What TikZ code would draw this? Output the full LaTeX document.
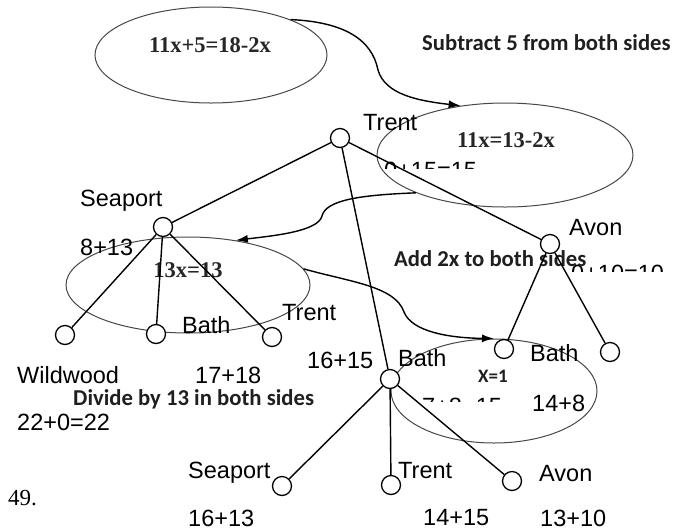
\documentclass[tikz,border=0pt]{standalone}
\usepackage{fontspec}
\setmainfont{Liberation Sans}
\newfontfamily\timesf{Liberation Serif}
\newfontfamily\calib{Carlito}
\usetikzlibrary{shapes.geometric,arrows.meta}
\tikzset{
  lbl/.style={font=\fontsize{23.5}{28}\selectfont, inner sep=0, anchor=base west},
  bld/.style={font=\calib\bfseries\fontsize{22.7}{27}\selectfont, text=black!88, inner sep=0, anchor=base west},
  eqn/.style={font=\timesf\bfseries\fontsize{22.5}{27}\selectfont, text=black!85, inner sep=0, anchor=base},
  vtx/.style={circle, draw, fill=white, line width=1.3pt, minimum size=19pt, inner sep=0},
  oval/.style={ellipse, draw=black!72, line width=1pt, inner sep=0},
  branch/.style={line width=1.4pt},
  flow/.style={line width=1.4pt, -{Latex[length=12pt,width=8pt]}}
}
\begin{document}
\begin{tikzpicture}[x=1pt,y=-1pt]
\useasboundingbox (0,0) rectangle (674,531);
% ellipses
\node[oval, minimum width=232pt, minimum height=96pt] (e1) at (211,55) {};
\node[oval, minimum width=256pt, minimum height=104pt] (e2) at (505,155) {};
\node[oval, minimum width=244pt, minimum height=96pt] (e4) at (188,285) {};
\node[oval, minimum width=206pt, minimum height=104pt] (e3) at (494,391) {};
% clipped labels
\begin{scope}
  \clip (370,150) rectangle (495,168.5);
  \node[lbl] (c1) at (384,178.5) {0+15=15};
\end{scope}
\begin{scope}
  \clip (560,255) rectangle (674,271);
  \node[lbl] (c2) at (571,281.5) {0+10=10};
\end{scope}
\begin{scope}
  \clip (410,390) rectangle (515,401);
  \node[lbl] (c3) at (422,414) {7+8=15};
\end{scope}
% equations
\node[eqn] (q1) at (210,52.5) {11x+5=18-2x};
\node[eqn] (q2) at (506,147.5) {11x=13-2x};
\node[eqn] (q4) at (188,277.5) {13x=13};
\node[bld, anchor=base, font=\calib\bfseries\fontsize{19}{23}\selectfont] (q3) at (493,382) {X=1};
% step texts
\node[bld] (s1) at (422,50) {Subtract 5 from both sides};
\node[bld] (s2) at (394,266) {Add 2x to both sides};
\node[bld] (s3) at (73,405) {Divide by 13 in both sides};
% tree vertices
\node[vtx] (t)  at (340,138) {};
\node[vtx] (sp) at (163,227) {};
\node[vtx] (av) at (550,244) {};
\node[vtx] (bm) at (390,379) {};
\node[vtx] (sw) at (65,335) {};
\node[vtx] (sb) at (156,334) {};
\node[vtx] (st) at (272,337) {};
\node[vtx] (ab) at (504,349) {};
\node[vtx] (ax) at (610,352) {};
\node[vtx] (bs) at (282,486) {};
\node[vtx] (bt) at (391,485) {};
\node[vtx] (ba) at (512,481) {};
% branches
\draw[branch] (t) -- (sp);
\draw[branch] (t) -- (av);
\draw[branch] (t) -- (bm);
\draw[branch] (sp) -- (sw);
\draw[branch] (sp) -- (sb);
\draw[branch] (sp) -- (st);
\draw[branch] (av) -- (ab);
\draw[branch] (av) -- (ax);
\draw[branch] (bm) -- (bs);
\draw[branch] (bm) -- (bt);
\draw[branch] (bm) -- (ba);
% labels
\node[lbl] (l1)  at (363,130) {Trent};
\node[lbl] (l2)  at (80,206) {Seaport};
\node[lbl] (l3)  at (80,255) {8+13};
\node[lbl] (l4)  at (569,235) {Avon};
\node[lbl] (l5)  at (182,333) {Bath};
\node[lbl] (l6)  at (282,320) {Trent};
\node[lbl] (l7)  at (307,368) {16+15};
\node[lbl] (l8)  at (398,366) {Bath};
\node[lbl] (l9)  at (530,361) {Bath};
\node[lbl] (l10) at (532,411) {14+8};
\node[lbl] (l11) at (17,383) {Wildwood};
\node[lbl] (l12) at (195,383) {17+18};
\node[lbl] (l13) at (17,430) {22+0=22};
\node[lbl] (l14) at (188,478) {Seaport};
\node[lbl] (l15) at (398,478) {Trent};
\node[lbl] (l16) at (539,481) {Avon};
\node[lbl] (l17) at (188,526) {16+13};
\node[lbl] (l18) at (423,525) {14+15};
\node[lbl] (l19) at (540,526) {13+10};
\node[lbl, font=\timesf\fontsize{23}{27}\selectfont] (num) at (8,505) {49.};
% flow arrows
\draw[flow] (e1.24.5) .. controls (345,22) and (372,40) .. (378,70)
  .. controls (385,95) and (420,101) .. (e2.132);
\draw[flow] (e2.203) .. controls (360,195) and (326,200) .. (322,216)
  .. controls (318,232) and (270,236) .. (e4.43);
\draw[flow] (e4.8) .. controls (350,282) and (395,286) .. (404,312)
  .. controls (412,332) and (450,338) .. (e3.north);
\end{tikzpicture}
\end{document}
